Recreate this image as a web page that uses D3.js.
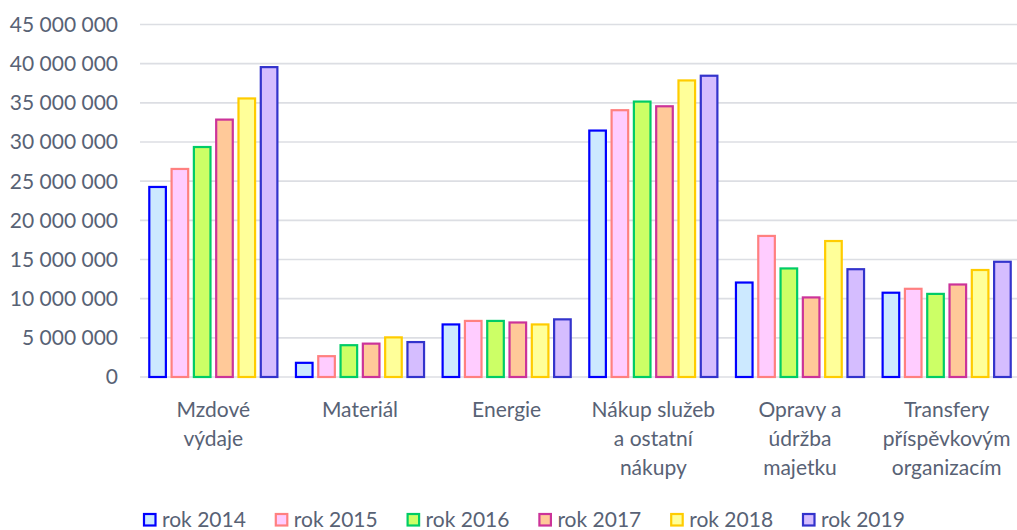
<!DOCTYPE html>
<html>
<head>
<meta charset="utf-8">
<script src="https://cdn.jsdelivr.net/npm/d3@7"></script>
<style>
  html, body { margin: 0; padding: 0; background: #fff; }
  svg { display: block; }
  text { font-family: Lato, "Open Sans", sans-serif; fill: #586275; }
</style>
</head>
<body>
<svg id="chart" width="1017" height="530"></svg>
<script>
const categories = [
  ["Mzdové", "výdaje"],
  ["Materiál"],
  ["Energie"],
  ["Nákup služeb", "a ostatní", "nákupy"],
  ["Opravy a", "údržba", "majetku"],
  ["Transfery", "příspěvkovým", "organizacím"]
];
const seriesNames = ["rok 2014", "rok 2015", "rok 2016", "rok 2017", "rok 2018", "rok 2019"];
const rok2014 = [24400000, 1950000, 6850000, 31600000, 12200000, 10900000];
const rok2015 = [26700000, 2800000, 7300000, 34200000, 18150000, 11400000];
const rok2016 = [29500000, 4200000, 7300000, 35300000, 14000000, 10750000];
const rok2017 = [33000000, 4400000, 7100000, 34700000, 10300000, 11950000];
const rok2018 = [35700000, 5200000, 6850000, 38000000, 17500000, 13800000];
const rok2019 = [39700000, 4600000, 7500000, 38600000, 13900000, 14850000];
const yTicks = [0, 5000000, 10000000, 15000000, 20000000, 25000000, 30000000, 35000000, 40000000, 45000000];
const fills = ["#cce9ff", "#ffccff", "#ccff66", "#ffc999", "#ffff99", "#d5bdff"];
const strokes = ["#0000ff", "#ff8080", "#00cc66", "#cc3399", "#ffcc00", "#3333cc"];

const seriesValues = [rok2014, rok2015, rok2016, rok2017, rok2018, rok2019];
const catKeys = categories.map(c => c.join(" "));

const svg = d3.select("#chart");
const x0 = d3.scaleBand().domain(catKeys).range([140, 1020]).paddingInner(0).paddingOuter(0);
const x1 = d3.scaleBand().domain(seriesNames).range([0, x0.bandwidth()]).paddingInner(0.157).paddingOuter(0.367);
const y = d3.scaleLinear().domain([0, 45000000]).range([377, 24.5]);

const loc = d3.formatLocale({decimal: ",", thousands: "\u00a0", grouping: [3], currency: ["", ""]});
const fmt = loc.format(",d");

// gridlines
svg.append("g").selectAll("line").data(yTicks).join("line")
  .attr("x1", 140).attr("x2", 1017)
  .attr("y1", d => y(d)).attr("y2", d => y(d))
  .attr("stroke", "#dcdee3").attr("stroke-width", 1.6);

// y tick labels
svg.append("g").selectAll("text").data(yTicks).join("text")
  .attr("x", 118).attr("y", d => y(d)).attr("dy", "0.35em")
  .attr("text-anchor", "end").attr("font-size", 21)
  .text(d => fmt(d));

// bars
const sw = 2.2;
seriesNames.forEach((s, si) => {
  svg.append("g").selectAll("rect").data(seriesValues[si]).join("rect")
    .attr("x", (d, i) => x0(catKeys[i]) + x1(s) + sw / 2)
    .attr("y", d => y(d) + sw / 2)
    .attr("width", x1.bandwidth() - sw)
    .attr("height", d => y(0) - y(d) - sw / 2)
    .attr("fill", fills[si]).attr("stroke", strokes[si]).attr("stroke-width", sw);
});

// category labels
const cl = svg.append("g").selectAll("text").data(categories).join("text")
  .attr("text-anchor", "middle").attr("font-size", 21)
  .attr("x", (d, i) => x0(catKeys[i]) + x0.bandwidth() / 2)
  .attr("y", 417);
cl.selectAll("tspan").data(d => d).join("tspan")
  .attr("x", function() { return d3.select(this.parentNode).attr("x"); })
  .attr("dy", (d, i) => i === 0 ? 0 : 29)
  .text(d => d);

// legend
const lg = svg.append("g").selectAll("g").data(seriesNames).join("g")
  .attr("transform", (d, i) => `translate(${143 + i * 131.8},513)`);
lg.append("rect").attr("x", 1).attr("y", 1).attr("width", 11.5).attr("height", 11.5)
  .attr("fill", (d, i) => fills[i]).attr("stroke", (d, i) => strokes[i]).attr("stroke-width", 2.2);
lg.append("text").attr("x", 19).attr("y", 13.5).attr("font-size", 21).text(d => d);
</script>
</body>
</html>
